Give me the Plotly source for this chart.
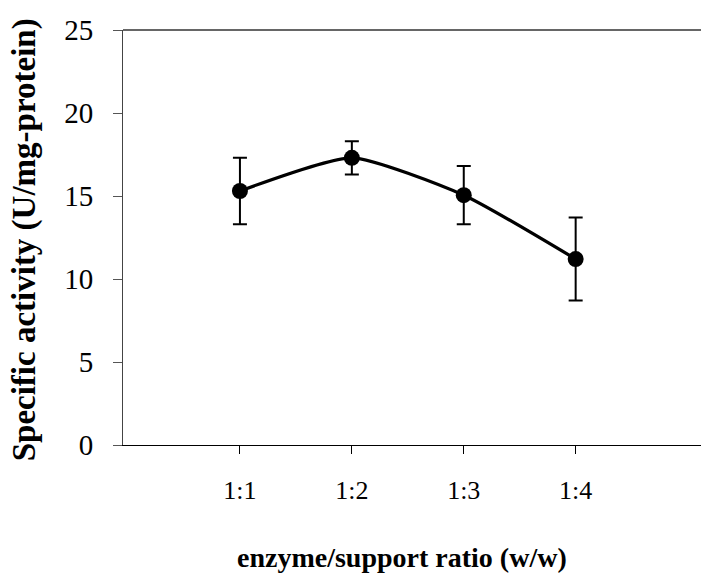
import plotly.graph_objects as go

# Enzyme/support loading ratios and measured specific activity
ratios = ["1:1", "1:2", "1:3", "1:4"]
positions = [1, 2, 3, 4]
activity = [15.3, 17.3, 15.05, 11.2]
activity_err = [2.0, 1.0, 1.75, 2.5]
y_ticks = [0, 5, 10, 15, 20, 25]

serif = "Liberation Serif"

fig = go.Figure()
fig.add_trace(go.Scatter(
    x=positions,
    y=activity,
    mode="lines+markers",
    line=dict(color="black", width=3.2, shape="spline", smoothing=0.55),
    marker=dict(color="black", size=16),
    error_y=dict(type="data", array=activity_err, visible=True,
                 color="black", thickness=2, width=7),
    showlegend=False,
))

fig.update_layout(
    width=701, height=574,
    margin=dict(l=123, r=0, t=30, b=129),
    paper_bgcolor="white",
    plot_bgcolor="white",
    font=dict(family=serif, color="black"),
    xaxis=dict(
        range=[-0.045, 5.12],
        tickvals=positions,
        ticktext=ratios,
        ticks="outside", ticklen=8, tickcolor="black", tickwidth=1,
        showline=True, linecolor="black", linewidth=1,
        mirror=False,
        showgrid=False, zeroline=False,
        tickfont=dict(size=26, family=serif),
        ticklabelstandoff=14,
    ),
    yaxis=dict(
        range=[0, 25],
        tickvals=y_ticks,
        ticks="outside", ticklen=9, tickcolor="#555", tickwidth=1,
        showline=True, linecolor="#444", linewidth=1,
        showgrid=False, zeroline=False,
        tickfont=dict(size=29, family=serif),
        ticklabelstandoff=14,
    ),
    shapes=[dict(type="line", xref="paper", yref="paper",
                 x0=0, x1=1, y0=1, y1=1,
                 line=dict(color="#666", width=2))],
    annotations=[
        dict(text="<b>enzyme/support ratio (w/w)</b>",
             xref="paper", yref="paper", x=0.483, y=-0.272,
             xanchor="center", yanchor="middle", showarrow=False,
             font=dict(size=28, family=serif)),
        dict(text="<b>Specific activity (U/mg-protein)</b>",
             xref="paper", yref="paper", x=-0.17, y=0.495,
             xanchor="center", yanchor="middle", showarrow=False,
             textangle=-90,
             font=dict(size=33, family=serif)),
    ],
)

fig.write_html("out.html")
